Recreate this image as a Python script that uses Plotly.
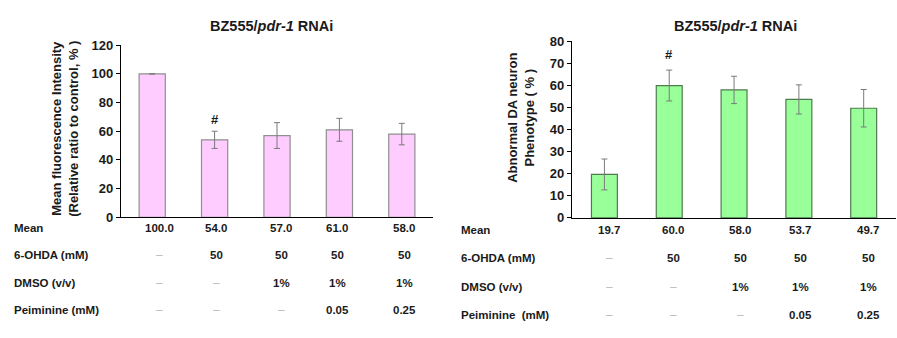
import plotly.graph_objects as go

W, H = 897, 338

# Fluorescence (left panel); the control bar carries no error bar
fl_mean = [100.0, 54.0, 57.0, 61.0, 58.0]
fl_err = [None, 6.0, 9.0, 8.0, 7.5]

# Abnormal DA neuron phenotype (right panel)
da_mean = [19.7, 60.0, 58.0, 53.7, 49.7]
da_err = [7.0, 7.0, 6.2, 6.6, 8.5]

row_labels = ["Mean", "6-OHDA (mM)", "DMSO (v/v)", "Peiminine (mM)"]
row_labels_r = ["Mean", "6-OHDA (mM)", "DMSO (v/v)", "Peiminine\u00a0\u00a0(mM)"]
ohda = ["", "50", "50", "50", "50"]
dmso = ["", "", "1%", "1%", "1%"]
peim = ["", "", "", "0.05", "0.25"]

FONT = "Arial, Liberation Sans, sans-serif"
TXT = "#1a1a1a"
DASH = "#bdbdbd"

def px_x(p):
    return p / W

def px_y(p):
    return (H - p) / H

fig = go.Figure()
idx = list(range(5))

fig.add_trace(go.Bar(
    x=idx, y=fl_mean, width=0.42, xaxis="x", yaxis="y",
    marker=dict(color="#ffccff", line=dict(color="#8f8f8f", width=1.2)),
    error_y=dict(type="data", array=fl_err, color="#7a7a7a", thickness=1, width=3,
                 visible=True),
    showlegend=False, hoverinfo="skip"))

fig.add_trace(go.Bar(
    x=idx, y=da_mean, width=0.40, xaxis="x2", yaxis="y2",
    marker=dict(color="#99ff99", line=dict(color="#4f7a4f", width=1.2)),
    error_y=dict(type="data", array=da_err, color="#7a7a7a", thickness=1, width=3,
                 visible=True),
    showlegend=False, hoverinfo="skip"))

yax = dict(showline=True, linecolor="black", linewidth=1.3, ticks="outside",
           ticklen=4, tickcolor="black", showgrid=False, zeroline=False,
           tickfont=dict(family=FONT, size=13, color=TXT, weight="bold"))
xax = dict(showline=True, linecolor="black", linewidth=1.3, showticklabels=False,
           ticks="", showgrid=False, zeroline=False, range=[-0.5, 4.5])

fig.update_layout(
    width=W, height=H, margin=dict(l=0, r=0, t=0, b=0),
    plot_bgcolor="white", paper_bgcolor="white",
    xaxis=dict(domain=[px_x(121), px_x(433)], anchor="y", **xax),
    yaxis=dict(domain=[px_y(220), px_y(40)], anchor="x", range=[0, 120],
               dtick=20, **yax),
    xaxis2=dict(domain=[px_x(572), 0.999], anchor="y2", **xax),
    yaxis2=dict(domain=[px_y(220.7), px_y(36)], anchor="x2", range=[0, 80],
                dtick=10, **yax),
)

ann = []

def txt(text, x, y, xref="paper", yref="paper", size=12, color=TXT, bold=True,
        xanchor="center", angle=0):
    ann.append(dict(text=text, x=x, y=y, xref=xref, yref=yref, showarrow=False,
                    xanchor=xanchor, yanchor="middle", textangle=angle,
                    font=dict(family=FONT, size=size, color=color,
                              weight="bold" if bold else "normal")))

# panel titles
txt("BZ555/<i>pdr-1</i> RNAi", px_x(271), px_y(20), size=14.5)
txt("BZ555/<i>pdr-1</i> RNAi", px_x(735), px_y(20), size=14.5)

# y-axis titles
txt("Mean fluorescence Intensity<br>(Relative ratio to control, % )",
    px_x(65), px_y(127.5), size=13, angle=-90)
txt("Abnormal DA neuron<br>Phenotype ( % )",
    px_x(521), px_y(116), size=13, angle=-90)

# significance marks
txt("#", 1, fl_mean[1] + fl_err[1] + 8, xref="x", yref="y", size=13)
txt("#", 1, da_mean[1] + da_err[1] + 7, xref="x2", yref="y2", size=13)

def table(means, label_x, rows_y, labels, col_px):
    for lab, yy in zip(labels, rows_y):
        txt(lab, px_x(label_x), px_y(yy), xanchor="left", size=11.5)
    rows = [[f"{v:.1f}" for v in means], ohda, dmso, peim]
    for r, yy in zip(rows, rows_y):
        for i, val in enumerate(r):
            if val:
                txt(val, px_x(col_px[i]), px_y(yy), size=11.5)
            else:
                txt("\u2013", px_x(col_px[i]), px_y(yy), size=12, color=DASH,
                    bold=False)

table(fl_mean, 12, [231, 260, 289, 317], row_labels,
      [159, 216, 281, 337, 404])
table(da_mean, 459, [233, 263, 293, 322], row_labels_r,
      [609, 673, 740, 800, 868])

fig.update_layout(annotations=ann)
fig.write_html("out.html")
